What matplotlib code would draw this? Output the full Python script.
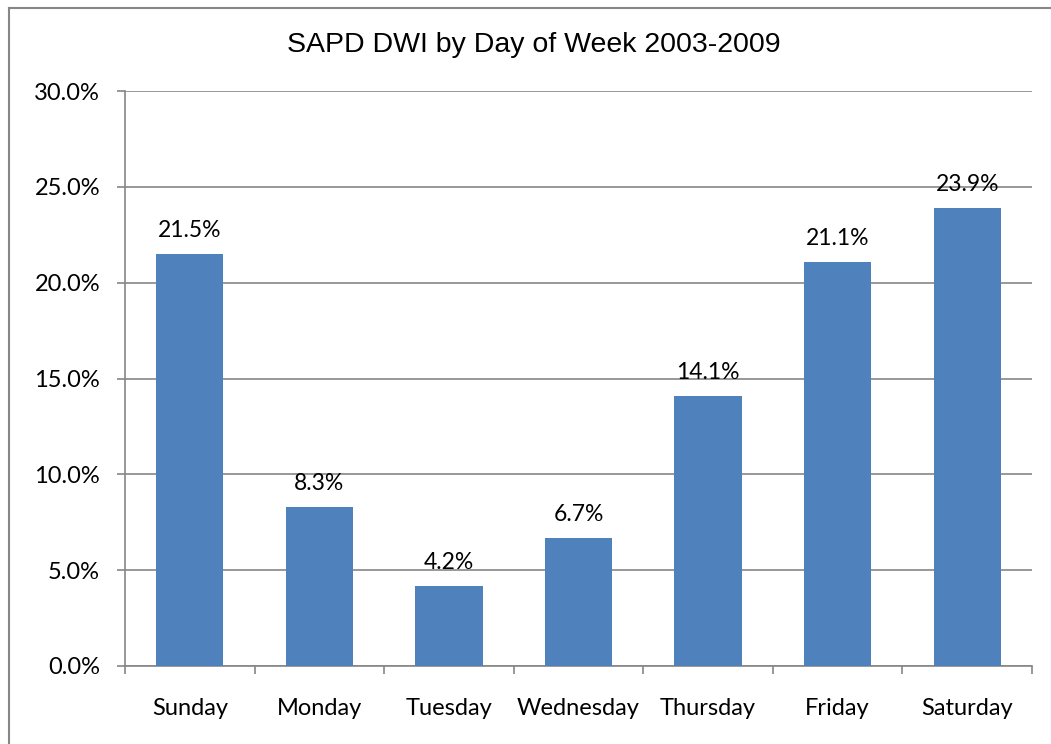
import matplotlib.pyplot as plt
from matplotlib.lines import Line2D
from matplotlib.ticker import FixedLocator, FuncFormatter

days = ['Sunday', 'Monday', 'Tuesday', 'Wednesday', 'Thursday', 'Friday', 'Saturday']
pct = [21.5, 8.3, 4.2, 6.7, 14.1, 21.1, 23.9]
y_ticks = [0, 5, 10, 15, 20, 25, 30]

bar_color = '#4f81bd'
gray = '#868686'
font = 'Lato'

fig = plt.figure(figsize=(10.51, 7.44), dpi=100)
ax = fig.add_axes([125 / 1051, 78 / 744, 907 / 1051, 575 / 744])

x = range(len(days))
ax.bar(x, pct, width=0.52, color=bar_color, zorder=3)

for i, v in enumerate(pct):
    ax.annotate(f'{v:.1f}%', (i, v), xytext=(0, 9), textcoords='offset points',
                ha='center', va='bottom', fontsize=16.5, family=font, zorder=4)

ax.set_xlim(-0.5, len(days) - 0.5)
ax.set_ylim(0, 30)
ax.set_yticks(y_ticks)
ax.yaxis.set_major_formatter(FuncFormatter(lambda v, p: f'{v:.1f}%'))
ax.grid(axis='y', color=gray, linewidth=1.2, zorder=0)

# category ticks at boundaries, labels in the middle
ax.xaxis.set_major_locator(FixedLocator([i - 0.5 for i in range(len(days) + 1)]))
ax.xaxis.set_minor_locator(FixedLocator(list(x)))
ax.set_xticklabels([])
ax.set_xticklabels(days, minor=True)
ax.tick_params(axis='x', which='major', direction='out', length=6, color=gray, width=1.2)
ax.tick_params(axis='x', which='minor', length=0, pad=23, labelsize=17)
ax.tick_params(axis='y', direction='out', length=6, color=gray, width=1.2, pad=12, labelsize=17)
for lab in ax.get_xticklabels(minor=True) + ax.get_yticklabels():
    lab.set_family(font)

for s in ['top', 'right']:
    ax.spines[s].set_visible(False)
for s in ['left', 'bottom']:
    ax.spines[s].set_color(gray)
    ax.spines[s].set_linewidth(1.2)

fig.text(534 / 1051, 1 - 45 / 744, 'SAPD DWI by Day of Week 2003-2009',
         ha='center', va='center', fontsize=20.5, family='Liberation Sans')

# chart area border (left and top edges visible)
fig.add_artist(Line2D([8.5 / 1051, 8.5 / 1051], [0, 1 - 7.5 / 744], color=gray, linewidth=1.5))
fig.add_artist(Line2D([8.5 / 1051, 1], [1 - 7.5 / 744, 1 - 7.5 / 744], color=gray, linewidth=1.5))

fig.savefig('out.png', dpi=100)
